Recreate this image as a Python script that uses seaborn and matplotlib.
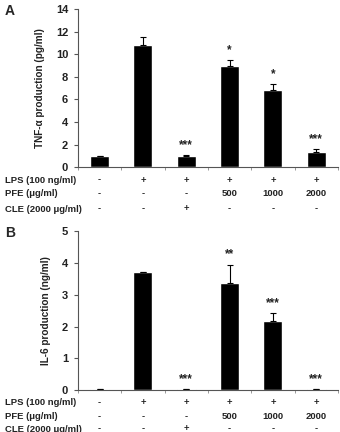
import numpy as np
import pandas as pd
import seaborn as sns
import matplotlib.pyplot as plt
import matplotlib.transforms as mtransforms

groups = ["ctrl", "LPS", "LPS+CLE", "LPS+PFE500", "LPS+PFE1000", "LPS+PFE2000"]
tnf_mean = [1.0, 10.8, 0.95, 8.95, 6.8, 1.35]
tnf_err = [0.0, 0.7, 0.15, 0.5, 0.6, 0.27]
tnf_sig = ["", "", "***", "*", "*", "***"]
il6_mean = [0.04, 3.7, 0.04, 3.37, 2.17, 0.04]
il6_err = [0.0, 0.0, 0.0, 0.58, 0.25, 0.0]
il6_sig = ["", "", "***", "**", "***", "***"]

row_labels = ["LPS (100 ng/ml)", "PFE (\u03bcg/ml)", "CLE (2000 \u03bcg/ml)"]
lps_row = ["-", "+", "+", "+", "+", "+"]
pfe_row = ["-", "-", "-", "500", "1000", "2000"]
cle_row = ["-", "-", "+", "-", "-", "-"]

sns.set_theme(style="white")
plt.rcParams['font.family'] = ['Liberation Sans', 'DejaVu Sans']
plt.rcParams['font.weight'] = 'bold'

fig = plt.figure(figsize=(3.4, 4.32), dpi=100)
axA = fig.add_axes([0.229, 0.613, 0.765, 0.366])
axB = fig.add_axes([0.229, 0.097, 0.765, 0.368])

def draw_panel(ax, means, errs, sigs, ymax, ylabel, letter, row_ys):
    df = pd.DataFrame({"group": groups, "value": means})
    sns.barplot(data=df, x="group", y="value", color="black", width=0.44,
                saturation=1, ax=ax, errorbar=None)
    x = np.arange(len(groups))
    ax.errorbar(x, means, yerr=[np.zeros(len(errs)), errs], fmt="none",
                ecolor="black", elinewidth=0.8, capsize=2, capthick=0.8)
    for xi, m, e, s in zip(x, means, errs, sigs):
        if s:
            ax.text(xi, m + e + ymax * 0.025, s, ha="center", va="bottom",
                    fontsize=8.5, color="#222222")
    ax.set_xlim(-0.5, 5.5)
    ax.set_ylim(0, ymax)
    ax.set_yticks(np.arange(0, ymax + 0.1, 2 if ymax > 5 else 1))
    ax.set_xticks(np.arange(-0.5, 5.6, 1))
    ax.set_xticklabels([])
    ax.set_xlabel("")
    ax.set_ylabel(ylabel, fontsize=7.2, fontweight="bold", color="#222222", labelpad=8)
    for sp in ["top", "right"]:
        ax.spines[sp].set_visible(False)
    for sp in ["left", "bottom"]:
        ax.spines[sp].set_color("#555555")
        ax.spines[sp].set_linewidth(0.8)
    ax.tick_params(axis="y", direction="out", length=3, width=0.8, color="#555555",
                   labelsize=8, labelcolor="#222222", left=True, pad=4)
    ax.tick_params(axis="x", direction="out", length=2, width=0.6, color="#888888",
                   bottom=True)
    for lab in ax.get_yticklabels():
        lab.set_fontweight("bold")
    trans = mtransforms.blended_transform_factory(ax.transData, fig.transFigure)
    for row, lab, yy in zip([lps_row, pfe_row, cle_row], row_labels, row_ys):
        fig.text(0.015, yy, lab, fontsize=6.8, fontweight="bold", color="#222222",
                 va="center", ha="left")
        for xi, v in zip(x, row):
            ax.text(xi, yy, v, transform=trans, fontsize=6.8, fontweight="bold",
                    color="#222222", ha="center", va="center")
    fig.text(0.015, ax.get_position().y1 - 0.005, letter, fontsize=10,
             fontweight="bold", va="center", ha="left")

draw_panel(axA, tnf_mean, tnf_err, tnf_sig, 14, "TNF-\u03b1 production (pg/ml)", "A",
           [1 - 180 / 432, 1 - 193.5 / 432, 1 - 209 / 432])
draw_panel(axB, il6_mean, il6_err, il6_sig, 5, "IL-6 production (ng/ml)", "B",
           [1 - 402.5 / 432, 1 - 416.5 / 432, 1 - 429 / 432])

fig.savefig("out.png", dpi=100)
